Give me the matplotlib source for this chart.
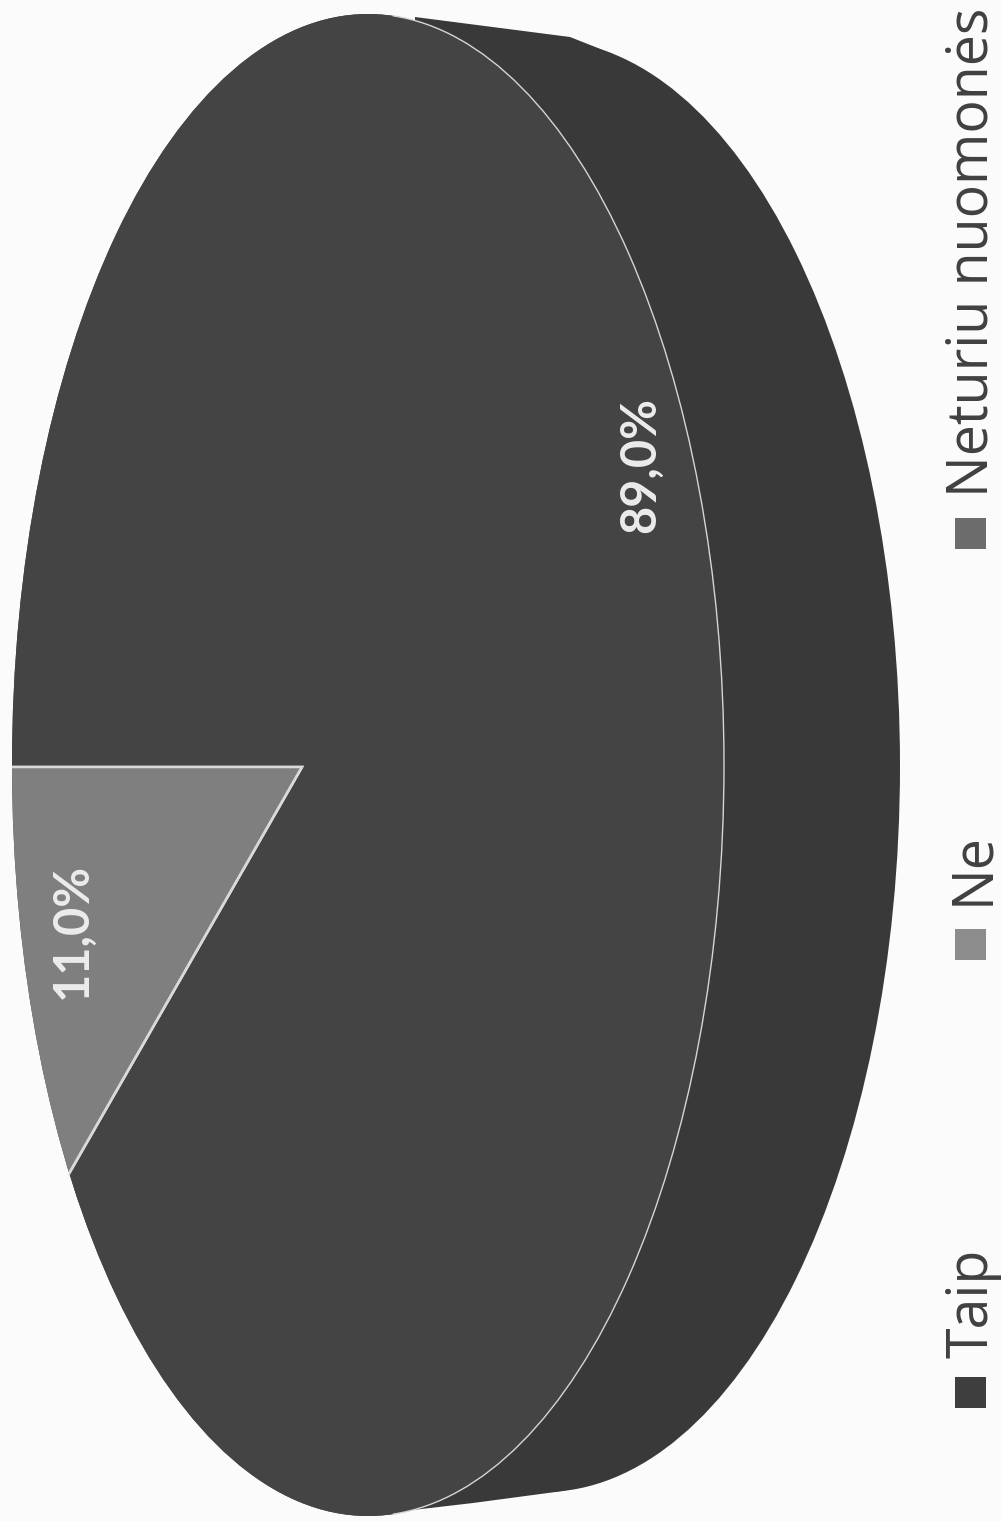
import matplotlib
matplotlib.use('Agg')
import matplotlib.pyplot as plt
from matplotlib.patches import Circle, Ellipse, Polygon, Rectangle, Arc

categories = ['Taip', 'Ne', 'Neturiu nuomonės']
values = [89.0, 11.0, 0.0]
value_labels = ['89,0%', '11,0%']
slice_colors = ['#444444', '#7f7f7f', '#6a6a6a']
legend_colors = ['#3e3e3e', '#8c8c8c', '#6c6c6c']

W, H = 1001, 1521
SX, SY = 356.0, 751.0
def ux(x): return x / SX
def uy(y): return (H - y) / SY

fig = plt.figure(figsize=(W / 100, H / 100), dpi=100, facecolor='#fbfbfb')
ax = fig.add_axes([0, 0, 1, 1])

# extruded side of the disc
side_col = '#393939'
ax.add_patch(Ellipse((ux(544), uy(766)), 2.0, 2 * 726 / SY, fc=side_col, ec='none', zorder=1))
ax.add_patch(Polygon([(ux(415), uy(17)), (ux(570), uy(37)), (ux(613), uy(54)),
                      (ux(613), uy(1477)), (ux(597), uy(1481)), (ux(563), uy(1491)),
                      (ux(473), uy(1503)), (ux(413), uy(1510))],
                     fc=side_col, ec='none', zorder=1))

# top face: a pie stretched by the axes scale, apex off-centre, clipped to the rim
top_center = (ux(368), uy(765))
base = Circle(top_center, 1.0, fc=slice_colors[0], ec='none', zorder=2)
ax.add_patch(base)
wedges, _ = ax.pie(values, colors=slice_colors, center=(ux(302), uy(767)), radius=3,
                   startangle=180 + 3.6 * values[1], counterclock=True,
                   wedgeprops=dict(ec='#d9d9d9', lw=1.8))
for w in wedges:
    w.set_zorder(3)
    w.set_clip_on(True)
    w.set_clip_path(base)

# white rim between top face and side
ax.add_patch(Arc(top_center, 2.0, 2.0, theta1=-86, theta2=86, ec='#d5d5d5', lw=1.0, zorder=4))

ax.set_aspect('auto')
ax.set_xlim(0, W / SX)
ax.set_ylim(0, H / SY)
ax.axis('off')

label_font = dict(family='Lato', fontsize=35, fontweight='bold', color='#ececec', rotation=90,
                  ha='center', va='center', zorder=5)
ax.text(ux(640), uy(465), value_labels[0], **label_font)
ax.text(ux(72), uy(931), value_labels[1], **label_font)

# legend
legend_y = [1392, 944, 533]
text_y = [1358, 905, 497]
for name, col, ys, yt in zip(categories, legend_colors, legend_y, text_y):
    ax.add_patch(Rectangle((ux(955), uy(ys + 15.5)), 31 / SX, 31 / SY, fc=col, ec='none', zorder=5))
    ax.text(ux(988), uy(yt), name, family='Open Sans', fontsize=40, color='#404040', rotation=90,
            rotation_mode='anchor', ha='left', va='baseline', zorder=5)

fig.savefig('out.png', dpi=100, facecolor=fig.get_facecolor())
